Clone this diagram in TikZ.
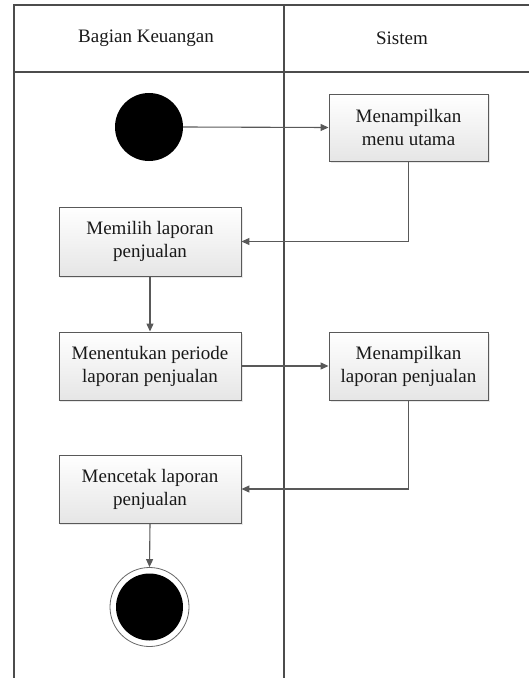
\documentclass[tikz,border=0pt]{standalone}
\usepackage{fontspec}
\setmainfont{Liberation Serif}
\usetikzlibrary{arrows.meta,shadows}
\tikzset{
  lane/.style={draw=black!70, line width=1.3bp},
  actbox/.style={rectangle, draw=black!65, line width=0.9bp,
    top color=white, bottom color=black!10,
    drop shadow={opacity=0.18, shadow xshift=1.5bp, shadow yshift=-1.5bp},
    align=center, inner sep=2bp, text=black!90,
    font=\fontsize{19bp}{23bp}\selectfont},
  flow/.style={draw=black!65, line width=1.1bp,
    -{Triangle[length=8bp,width=7bp]}},
  lanehead/.style={font=\fontsize{19bp}{23bp}\selectfont, text=black!90},
  startnode/.style={circle, fill=black, minimum size=68bp, inner sep=0pt},
  endnode/.style={circle, draw=black!60, line width=0.8bp, minimum size=79bp,
    inner sep=0pt,
    path picture={\fill[black] (path picture bounding box.center) circle (33.5bp);}}
}
\begin{document}
\begin{tikzpicture}[x=1bp,y=-1bp]
\useasboundingbox (0,0) rectangle (529,678);
% swimlane frame
\draw[lane] (14,678) -- (14,5) -- (529,5);
\draw[lane] (14,72) -- (529,72);
\draw[lane] (284,5) -- (284,678);
\node[lanehead] (hBag) at (146,38) {Bagian Keuangan};
\node[lanehead] (hSis) at (402,38) {Sistem};
% activities
\node[startnode] (start) at (149,127) {};
\node[actbox, minimum width=159bp, minimum height=67bp] (menu) at (408.5,127.5) {Menampilkan\\menu utama};
\node[actbox, minimum width=182bp, minimum height=69bp] (pilih) at (150,241.5) {Memilih laporan\\penjualan};
\node[actbox, minimum width=182bp, minimum height=68bp] (periode) at (150,366) {Menentukan periode\\laporan penjualan};
\node[actbox, minimum width=159bp, minimum height=68bp] (tampil) at (408.5,366) {Menampilkan\\laporan penjualan};
\node[actbox, minimum width=182bp, minimum height=68bp] (cetak) at (150,489) {Mencetak laporan\\penjualan};
\node[endnode] (end) at (149.5,607) {};
% control flow
\draw[flow] (start.east) -- (menu.west);
\draw[flow] (menu.south) |- (pilih.east);
\draw[flow] (pilih.south) -- (periode.north);
\draw[flow] (periode.east) -- (tampil.west);
\draw[flow] (tampil.south) |- (cetak.east);
\draw[flow] (cetak.south) -- (end.north);
\end{tikzpicture}
\end{document}
